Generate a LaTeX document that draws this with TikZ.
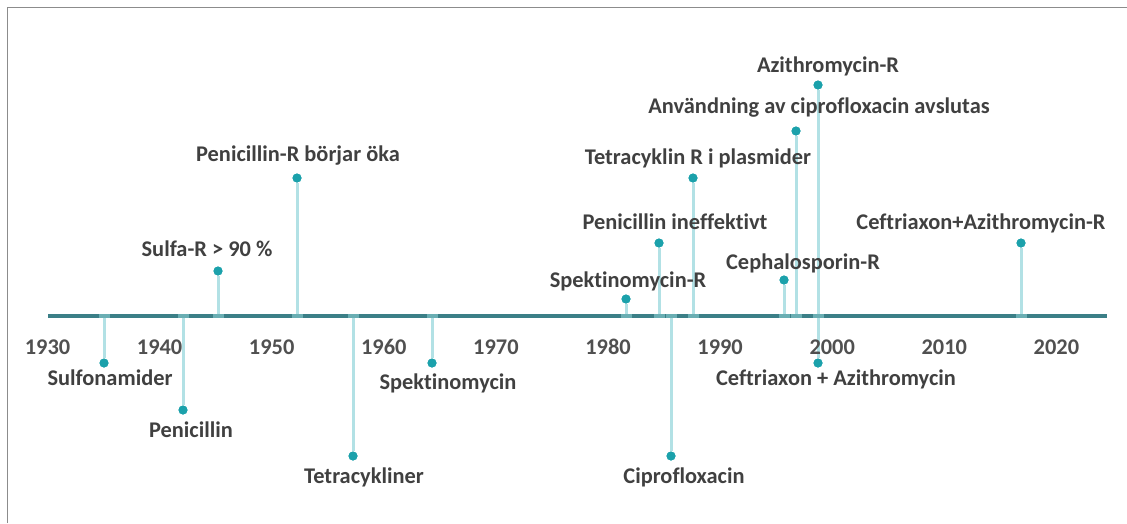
\documentclass[tikz,border=0pt]{standalone}
\usepackage{fontspec}
\setmainfont{Carlito}[Ligatures={NoCommon}]
\definecolor{axiscol}{HTML}{3B7F87}
\definecolor{stemcol}{HTML}{B2E1E5}
\definecolor{dotcol}{HTML}{1BA1AB}
\definecolor{tickcol}{HTML}{6AAEB3}
\definecolor{txtcol}{HTML}{404040}
\definecolor{yearcol}{HTML}{505050}
\definecolor{framecol}{HTML}{8C8C8C}
\tikzset{
  lbl/.style={font=\fontsize{22.4}{26}\selectfont\bfseries, text=txtcol, anchor=base, inner sep=0pt},
  yearlbl/.style={font=\fontsize{22.4}{26}\selectfont\bfseries, text=yearcol, anchor=base, inner sep=0pt},
  dotnode/.style={circle, fill=dotcol, minimum size=9pt, inner sep=0pt},
  ticknode/.style={rectangle, fill=tickcol, minimum width=11pt, minimum height=4pt, inner sep=0pt},
  stemline/.style={draw=stemcol, line width=3pt},
  axisline/.style={draw=axiscol, line width=4pt},
}
\begin{document}
\begin{tikzpicture}[x=1pt,y=-1pt]
\useasboundingbox (0,0) rectangle (1127,523);
\draw[framecol, line width=1.5pt] (7.5,523) -- (7.5,7.5) -- (1127,7.5);
% stems (axis point -> dot)
\foreach \n/\x/\y in {
  s1/104/363, s2/183/410, s3/353/456, s4/432/363, s5/671/456, s6/818/363,
  u1/218/271, u2/297/178, u3/626/299, u4/659/243, u5/693/178, u6/784/280,
  u7/796/131, u8/818/85, u9/1021/243}
{
  \coordinate (a\n) at (\x,316);
  \node[dotnode] (d\n) at (\x,\y) {};
  \draw[stemline] (a\n) -- (d\n);
}
% axis
\coordinate (ax0) at (48,316);
\coordinate (ax1) at (1107,316);
\draw[axisline] (ax0) -- (ax1);
\foreach \n in {s1,s2,s3,s4,s5,s6,u1,u2,u3,u4,u5,u6,u7,u8,u9}
  \node[ticknode] (t\n) at (a\n) {};
% dots on top
\foreach \n in {s1,s2,s3,s4,s5,s6,u1,u2,u3,u4,u5,u6,u7,u8,u9}
  \node[dotnode] at (d\n) {};
% years
\foreach \yr [count=\i from 0] in {1930,1940,1950,1960,1970,1980,1990,2000,2010,2020}
  \node[yearlbl] (y\yr) at ({47.5+112.1*\i},354) {\yr};
% labels
\node[lbl] (ls1) at (110,385) {Sulfonamider};
\node[lbl] (ls2) at (191,437) {Penicillin};
\node[lbl] (ls3) at (364,483) {Tetracykliner};
\node[lbl] (ls4) at (448,389) {Spektinomycin};
\node[lbl] (ls5) at (684,483) {Ciprofloxacin};
\node[lbl] (ls6) at (836,385) {Ceftriaxon + Azithromycin};
\node[lbl] (lu1) at (207,256) {Sulfa-R > 90 \%};
\node[lbl] (lu2) at (298,161) {Penicillin-R börjar öka};
\node[lbl] (lu3) at (628,287) {Spektinomycin-R};
\node[lbl] (lu4) at (675,229) {Penicillin ineffektivt};
\node[lbl] (lu5) at (698,164) {Tetracyklin R i plasmider};
\node[lbl] (lu6) at (803,269) {Cephalosporin-R};
\node[lbl] (lu7) at (819,113) {Användning av ciprofloxacin avslutas};
\node[lbl] (lu8) at (828,72) {Azithromycin-R};
\node[lbl] (lu9) at (981,229) {Ceftriaxon+Azithromycin-R};
\end{tikzpicture}
\end{document}
